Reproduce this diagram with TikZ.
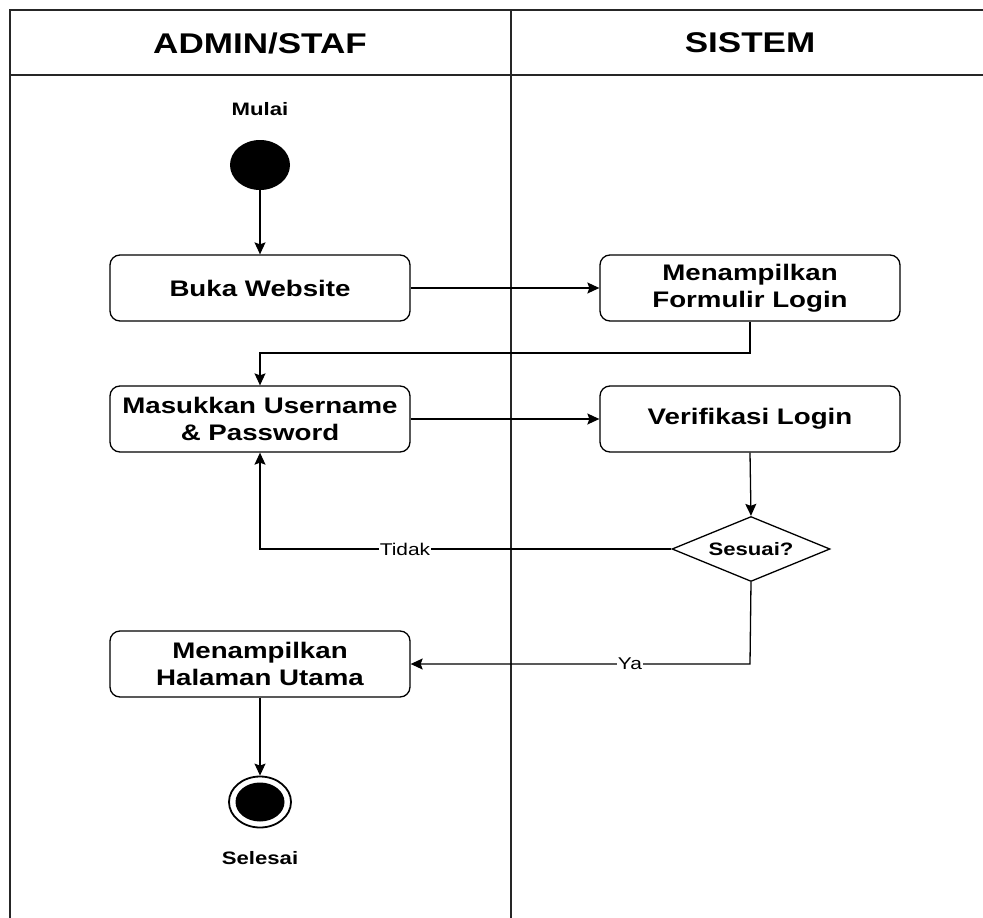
\documentclass[tikz,border=0pt]{standalone}
\usepackage{fontspec}
\setmainfont{Liberation Sans}[FakeStretch=1.23]
\usetikzlibrary{arrows.meta,shapes.geometric}
\begin{document}
\begin{tikzpicture}[x=1pt,y=-1pt,
  lane/.style={line width=1.6pt,draw=black!85},
  act/.style={draw,line width=1.3pt,rounded corners=10pt,minimum width=300pt,minimum height=66pt,inner sep=0pt,align=center,font=\fontsize{22.5}{27}\selectfont\bfseries},
  hdr/.style={font=\fontsize{28.5}{30}\selectfont\bfseries},
  small/.style={font=\fontsize{18}{20}\selectfont\bfseries},
  elab/.style={font=\fontsize{17}{19}\selectfont,fill=white,inner sep=1pt},
  conn/.style={line width=1.3pt,-{Stealth[length=12pt,width=11pt,inset=2pt]}},
  dec/.style={diamond,draw,line width=1.3pt,minimum width=158pt,minimum height=65pt,inner sep=0pt,aspect=2.4,font=\fontsize{18}{20}\selectfont\bfseries}
]
\useasboundingbox (0,0) rectangle (983,918);
% swimlanes
\draw[lane] (10,918) -- (10,10) -- (983,10);
\draw[lane] (10,75) -- (983,75);
\draw[lane] (511,10) -- (511,918);
\node[hdr] (h1) at (260,43) {ADMIN/STAF};
\node[hdr] (h2) at (750,43) {SISTEM};
% nodes
\node[small] (mulai) at (260,109) {Mulai};
\node[ellipse,fill=black,minimum width=60pt,minimum height=50pt,inner sep=0pt] (start) at (260,165) {};
\node[act] (buka) at (260,288) {Buka Website};
\node[act] (form) at (750,288) {Menampilkan\\Formulir Login};
\node[act] (masuk) at (260,419) {Masukkan Username\\\& Password};
\node[act] (verif) at (750,419) {Verifikasi Login};
\node[dec] (sesuai) at (751,549) {Sesuai?};
\node[act] (hal) at (260,664) {Menampilkan\\Halaman Utama};
\node[ellipse,draw,line width=1.8pt,minimum width=62pt,minimum height=51pt,inner sep=0pt] (end) at (260,802) {};
\node[ellipse,fill=black,minimum width=49pt,minimum height=39pt,inner sep=0pt] (endin) at (260,802) {};
\node[small] (selesai) at (260,858) {Selesai};
% connectors
\coordinate (c1) at (750,353);
\coordinate (c2) at (260,353);
\coordinate (c3) at (260,549);
\coordinate (c4) at (750,664);
\draw[conn] (start) -- (buka);
\draw[conn] (buka) -- (form);
\draw[conn] (form.south) -- (c1) -- (c2) -- (masuk.north);
\draw[conn] (masuk) -- (verif);
\draw[conn] (verif.south) -- (sesuai.north);
\draw[conn] (sesuai.west) -- (c3) -- (masuk.south);
\node[elab] (tidak) at (405,549) {Tidak};
\draw[conn] (sesuai.south) -- (c4) -- (hal.east);
\node[elab] (ya) at (630,664) {Ya};
\draw[conn] (hal) -- (end);
\end{tikzpicture}
\end{document}
